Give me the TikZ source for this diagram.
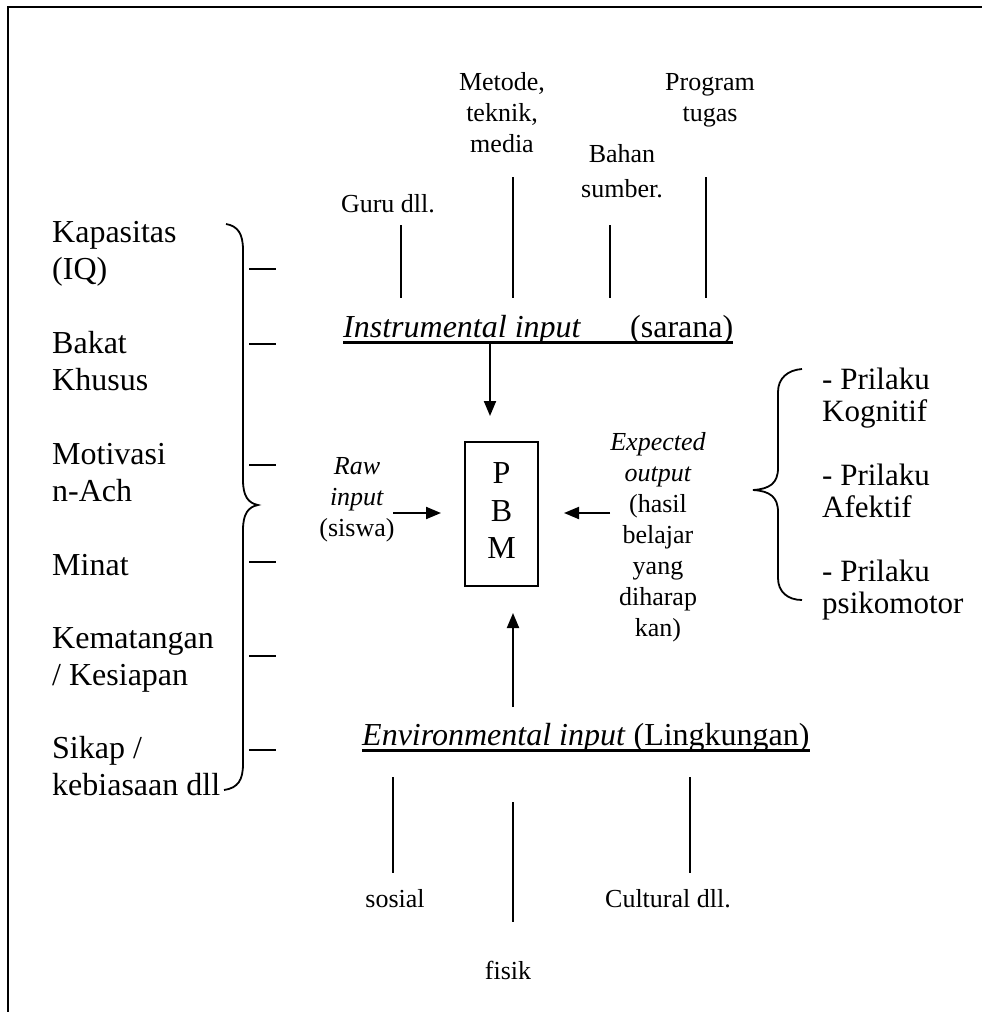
\documentclass[tikz,border=0pt]{standalone}
\usepackage{fontspec}
\setmainfont{Liberation Serif}
\usetikzlibrary{arrows.meta}
\newcommand{\firstln}{\rule{0pt}{0.75em}}
\begin{document}
\begin{tikzpicture}[x=1pt,y=-1pt,
  big/.style={font=\fontsize{32}{37}\selectfont, inner sep=0pt, anchor=north},
  small/.style={font=\fontsize{26}{31}\selectfont, inner sep=0pt, anchor=north},
  rgt/.style={font=\fontsize{31}{32}\selectfont, inner sep=0pt, anchor=north west, align=left},
  ln/.style={line width=2pt},
  tick/.style={line width=1.8pt},
  arr/.style={line width=2pt, -{Triangle[length=15pt,width=12pt]}},
  brc/.style={line width=1.8pt},
]
\useasboundingbox (0,0) rectangle (982,1012);
% frame
\draw[line width=2.5pt] (982,7) -- (8,7) -- (8,1012);

% left column
\node[big, anchor=north west, align=left] (kap) at (52,218) {\firstln Kapasitas\\(IQ)};
\node[big, anchor=north west, align=left] (bak) at (52,329) {\firstln Bakat\\Khusus};
\node[big, anchor=north west, align=left] (mot) at (52,440) {\firstln Motivasi\\n-Ach};
\node[big, anchor=north west, align=left] (min) at (52,551) {\firstln Minat};
\node[big, anchor=north west, align=left] (kem) at (52,624) {\firstln Kematangan\\/ Kesiapan};
\node[big, anchor=north west, align=left] (sik) at (52,734) {\firstln Sikap /\\kebiasaan dll};

% left brace
\draw[brc] (226,224) .. controls (238,226) and (243,234) .. (243,250) -- (243,480)
  .. controls (243,496) and (248,503) .. (258,505)
  .. controls (248,507) and (243,514) .. (243,530) -- (243,764)
  .. controls (243,780) and (238,788) .. (224,790);
% ticks
\foreach \ty in {269,344,465,562,656,750} \draw[tick] (249,\ty) -- (276,\ty);

% top labels
\node[small, align=center] (met) at (502,71) {\firstln Metode,\\teknik,\\media};
\node[small, align=center] (prog) at (710,71) {\firstln Program\\tugas};
\node[small, align=center, font=\fontsize{26}{35}\selectfont] (bah) at (622,143) {\firstln Bahan\\sumber.};
\node[small, align=center] (guru) at (388,193) {\firstln Guru dll.};
\draw[ln] (401,225) -- (401,298);
\draw[ln] (513,177) -- (513,298);
\draw[ln] (610,225) -- (610,298);
\draw[ln] (706,177) -- (706,298);

% instrumental input
\node[big, anchor=north west] (instr) at (343,313) {\firstln\textit{Instrumental input}};
\node[big, anchor=north west] (sar) at (630,313) {\firstln(sarana)};
\draw[line width=2.5pt] ([yshift=-5.5pt]instr.base west) -- ([yshift=-5.5pt]instr.base west -| sar.east);

% PBM
\node[draw, line width=2pt, big, anchor=center, align=center, minimum width=73pt, minimum height=144pt,
  font=\fontsize{32}{37.5}\selectfont] (pbm) at (501.5,514) {P\\B\\M\rule[-6pt]{0pt}{0pt}};

% raw input
\node[small, align=center] (raw) at (357,455) {\firstln\textit{Raw}\\\textit{input}\\(siswa)};
% expected output
\node[small, align=center] (exp) at (658,431) {\firstln\textit{Expected}\\\textit{output}\\(hasil\\belajar\\yang\\diharap\\kan)};

% arrows
\coordinate (dtop) at (490,344);
\draw[arr, shorten >=25pt] (dtop) -- (dtop |- pbm.north);
\coordinate (rawS) at (393,513);
\draw[arr, shorten >=23pt] (rawS) -- (rawS -| pbm.west);
\coordinate (expS) at (610,513);
\draw[arr, shorten >=25pt] (expS) -- (expS -| pbm.east);
\coordinate (envS) at (513,707);
\draw[arr, shorten >=26pt] (envS) -- (envS |- pbm.south);

% right brace and labels
\draw[brc] (802,369) .. controls (788,370) and (778,378) .. (778,392) -- (778,468)
  .. controls (778,483) and (770,489) .. (753,490)
  .. controls (770,491) and (778,497) .. (778,512) -- (778,578)
  .. controls (778,592) and (788,600) .. (802,600);
\node[rgt] (pk) at (822,366) {\firstln - Prilaku\\Kognitif};
\node[rgt] (pa) at (822,462) {\firstln - Prilaku\\Afektif};
\node[rgt] (pp) at (822,558) {\firstln - Prilaku\\psikomotor};

% environmental input
\node[big, anchor=north west] (env) at (362,721) {\firstln\textit{Environmental input} (Lingkungan)};
\draw[line width=2.5pt] ([yshift=-5.5pt]env.base west) -- ([yshift=-5.5pt]env.base east);

% bottom labels
\draw[ln] (393,777) -- (393,873);
\draw[ln] (513,802) -- (513,922);
\draw[ln] (690,777) -- (690,873);
\node[small] (sos) at (395,888) {\firstln sosial};
\node[small] (cul) at (668,888) {\firstln Cultural dll.};
\node[small] (fis) at (508,960) {\firstln fisik};
\end{tikzpicture}
\end{document}
